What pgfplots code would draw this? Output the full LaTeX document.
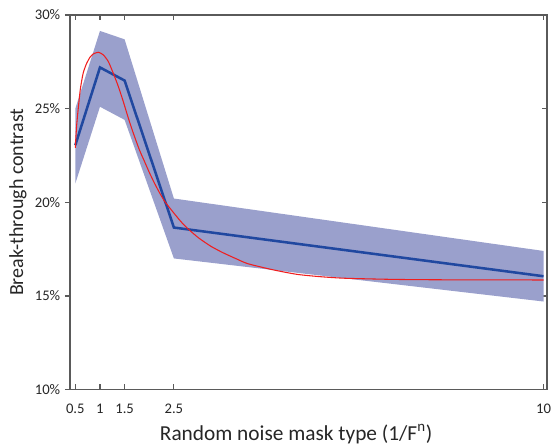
\documentclass[border=0pt]{standalone}
\usepackage{pgfplots}
\pgfplotsset{compat=1.18}
\usetikzlibrary{calc}
\usepackage{fontspec}
\setmainfont{Carlito}
\definecolor{bandc}{RGB}{154,160,204}
\definecolor{linec}{RGB}{32,72,160}
\definecolor{redc}{RGB}{240,30,30}
\definecolor{axc}{RGB}{90,90,90}
\begin{document}
\begin{tikzpicture}[x=1pt,y=1pt]
\def\px{0.75}
\pgfplotsset{
  common/.style={
    scale only axis,
    width=357.75pt, height=280.9pt,
    xmin=0.392, xmax=10.07, ymin=10, ymax=30,
    axis line style={axc, line width=1.1pt},
    major tick style={axc, line width=0.9pt},
    major tick length=3.8pt,
    tick label style={font=\fontsize{11}{13}\selectfont, text=black!85},
  }
}
\begin{axis}[common,
  xtick={0.5,1,1.5,2.5,10},
  xticklabels={0.5,1,1.5,2.5,10},
  xtick pos=both, xticklabel pos=lower,
  xticklabel style={yshift=-7.5pt},
  ytick={10,15,20,25,30},
  yticklabels={},
  ytick pos=right,
  tick align=inside,
  xlabel={Random noise mask type (1/F\textsuperscript{n})},
  xlabel style={font=\fontsize{16}{19}\selectfont, text=black!85, at={(axis description cs:0.474,-0.1188)}, anchor=center},
  ylabel={Break-through contrast},
  ylabel style={font=\fontsize{15}{18}\selectfont, text=black!85, at={(axis description cs:-0.109,0.5)}, anchor=center},
]
\addplot[draw=none, fill=bandc, forget plot] coordinates {
  (0.5,25.0) (1,29.15) (1.5,28.7) (2.5,20.2) (10,17.4)
  (10,14.7) (2.5,17.0) (1.5,24.4) (1,25.1) (0.5,21.0)
} -- cycle;
\addplot[linec, line width=1.9pt, line join=miter] coordinates {
  (0.5,23.05) (1,27.2) (1.5,26.5) (2.5,18.65) (10,16.05)
};
\addplot[redc, line width=0.8pt, smooth, tension=0.4] coordinates {
  (0.5,22.9) (0.53,24.2) (0.6,26.0) (0.66,26.9) (0.73,27.42) (0.8,27.75)
  (0.865,27.92) (0.967,28.01) (1.068,27.87) (1.17,27.51) (1.27,26.89)
  (1.373,26.18) (1.474,25.37) (1.576,24.49) (1.677,23.69) (1.8,22.8)
  (1.9,22.2) (2.0,21.6) (2.1,21.05) (2.2,20.55) (2.3,20.1) (2.4,19.75)
  (2.5,19.42) (2.6,19.1) (2.7,18.8) (2.8,18.55) (3.0,18.1) (3.25,17.65)
  (3.5,17.3) (3.75,17.0) (4.0,16.72) (4.5,16.4) (5.0,16.15) (5.5,16.02)
  (6.0,15.94) (7.0,15.88) (8.0,15.86) (10,15.85)
};
\end{axis}
\begin{axis}[common,
  hide x axis,
  axis y line*=left,
  ytick={10,15,20,25,30},
  yticklabels={10\%,15\%,20\%,25\%,30\%},
  tick align=outside,
]
\end{axis}
\pgfresetboundingbox
\path[use as bounding box] ($(current axis.south west)+(-70*\px,-55.5*\px)$) rectangle ($(current axis.north east)+(7*\px,15*\px)$);
\end{tikzpicture}
\end{document}
